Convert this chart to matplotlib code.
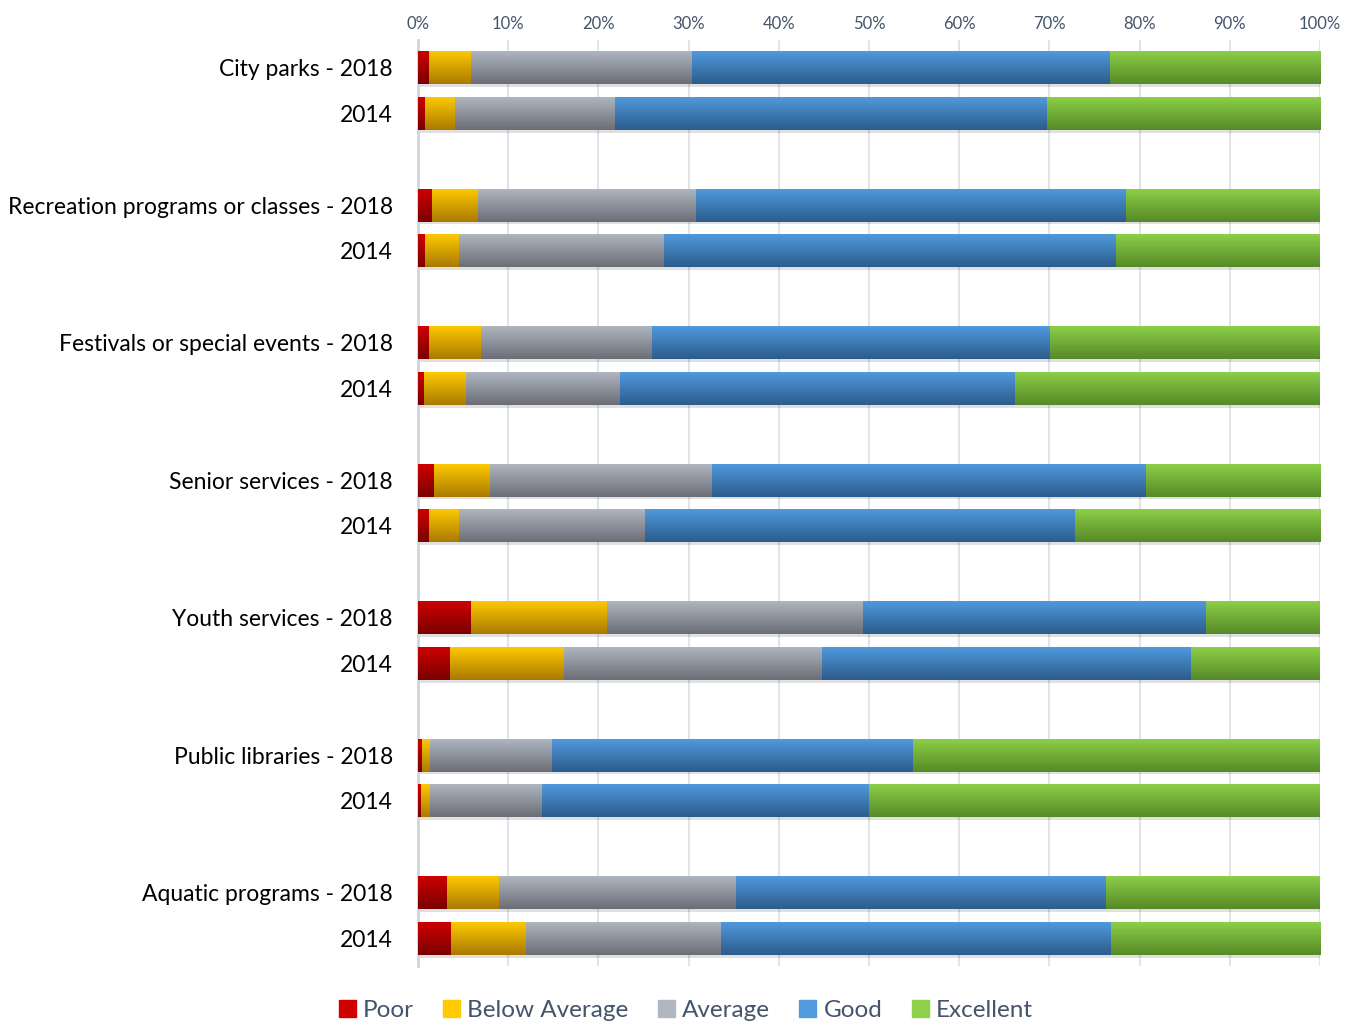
import numpy as np
import matplotlib
matplotlib.use("Agg")
import matplotlib.pyplot as plt
from matplotlib.colors import LinearSegmentedColormap
from matplotlib.patches import Rectangle

plt.rcParams['font.family'] = ['Lato', 'DejaVu Sans']

# data (percent of respondents)
labels = ['City parks - 2018', '2014',
          'Recreation programs or classes - 2018', '2014',
          'Festivals or special events - 2018', '2014',
          'Senior services - 2018', '2014',
          'Youth services - 2018', '2014',
          'Public libraries - 2018', '2014',
          'Aquatic programs - 2018', '2014']
categories = ['Poor', 'Below Average', 'Average', 'Good', 'Excellent']
poor = [1.2, 0.8, 1.5, 0.8, 1.2, 0.7, 1.8, 1.2, 5.9, 3.5, 0.4, 0.3, 3.2, 3.7]
below_avg = [4.7, 3.3, 5.1, 3.8, 5.8, 4.6, 6.2, 3.4, 15.1, 12.7, 0.9, 1.0, 5.8, 8.3]
average = [24.5, 17.7, 24.2, 22.7, 18.9, 17.1, 24.6, 20.6, 28.3, 28.6, 13.6, 12.4, 26.3, 21.6]
good = [46.3, 47.9, 47.7, 50.1, 44.2, 43.8, 48.1, 47.6, 38.1, 40.9, 40.0, 36.3, 41.0, 43.2]
excellent = [23.3, 30.3, 21.5, 22.6, 29.9, 33.8, 19.3, 27.2, 12.6, 14.3, 45.1, 50.0, 23.7, 23.2]

series = [poor, below_avg, average, good, excellent]
# (top colour, bottom colour) for the vertical gradient
grads = [('#D00000', '#7A0000'),
         ('#FFCB00', '#AA7A00'),
         ('#B0B7C1', '#6C6E77'),
         ('#519BDF', '#2C5C8C'),
         ('#8ED049', '#568A27')]

fig = plt.figure(figsize=(13.58, 10.26), dpi=100)
ax = fig.add_axes([0.3078, 0.0585, 0.6642, 0.9025])

ypos = []
for i in range(len(labels) // 2):
    ypos += [3 * i, 3 * i + 1]
ypos = np.array(ypos, dtype=float)
h = 0.72

grad_img = np.linspace(0, 1, 64).reshape(-1, 1)
left = np.zeros(len(labels))
for vals, (ctop, cbot), name in zip(series, grads, categories):
    vals = np.array(vals)
    bars = ax.barh(ypos, vals, left=left, height=h, color=ctop, label=name,
                   zorder=3, linewidth=0)
    cmap = LinearSegmentedColormap.from_list(name, [ctop, cbot])
    for b in bars:
        x0, y0 = b.get_x(), b.get_y()
        w, hh = b.get_width(), b.get_height()
        # soft drop shadow
        sh = Rectangle((x0, y0 + 0.06), w, hh, color='#000000', alpha=0.12,
                       linewidth=0, zorder=2)
        ax.add_patch(sh)
        im = ax.imshow(grad_img, cmap=cmap, aspect='auto',
                       extent=(x0, x0 + w, y0 + hh, y0), zorder=4,
                       interpolation='bicubic')
        im.set_clip_path(b)
    left = left + vals

ax.set_xlim(0, 100)
ax.set_ylim(19.6, -0.6)
ax.set_yticks(ypos)
ax.set_yticklabels(labels, fontsize=16.5, color='black')
ax.set_xticks(np.arange(0, 101, 10))
ax.set_xticklabels([f'{v}%' for v in range(0, 101, 10)], fontsize=12,
                   color='#44546A')
ax.xaxis.tick_top()
ax.tick_params(axis='both', length=0)
ax.tick_params(axis='y', pad=18)
ax.tick_params(axis='x', pad=6)
ax.grid(axis='x', color='#E1E4E8', linewidth=1.5, zorder=0)
ax.set_axisbelow(True)
for s in ['top', 'right', 'bottom']:
    ax.spines[s].set_visible(False)
ax.spines['left'].set_color('#D0D5DB')
ax.spines['left'].set_linewidth(2)

handles = [Rectangle((0, 0), 1, 1, color=c[0]) for c in grads]
fig.legend(handles, categories, loc='lower center', bbox_to_anchor=(0.505, -0.016),
           ncol=5, frameon=False, fontsize=17.5, handlelength=0.7, handleheight=0.7,
           handletextpad=0.3, columnspacing=1.2, labelcolor='#44546A')

fig.savefig('out.png', dpi=100)
